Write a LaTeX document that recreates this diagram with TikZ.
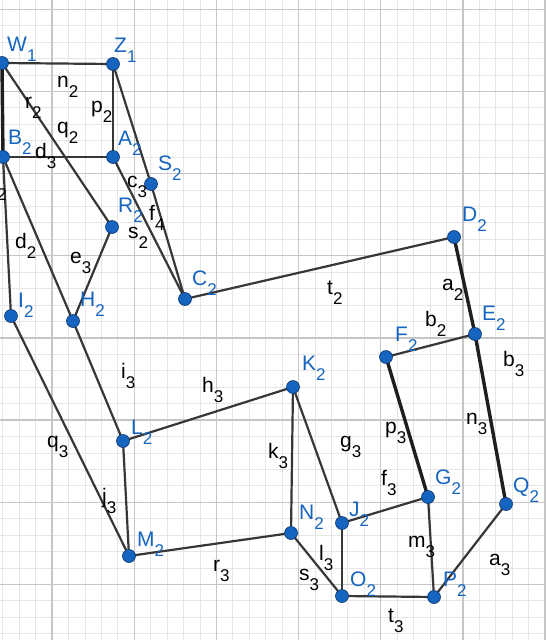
\documentclass[tikz,border=0pt]{standalone}
\usepackage{fontspec}
\setmainfont{Liberation Sans}
\pgfdeclarelayer{grid}
\pgfdeclarelayer{edges}
\pgfsetlayers{grid,edges,main}
\definecolor{ptblue}{RGB}{21,101,192}
\definecolor{ptedge}{RGB}{14,55,110}
\definecolor{segc}{RGB}{55,55,55}
\definecolor{minorg}{RGB}{230,230,230}
\definecolor{majorg}{RGB}{198,198,198}
\newcommand\lbl[2]{#1\raisebox{-10pt}{\fontsize{17}{17}\selectfont #2}}
\begin{document}
\begin{tikzpicture}[x=1pt,y=-1pt,
  pt/.style={circle,fill=ptblue,draw=ptedge,line width=0.6pt,minimum size=13pt,inner sep=0pt},
  segline/.style={draw=segc,line width=2.2pt},
  boldline/.style={draw=black!88,line width=3.4pt},
  plab/.style={anchor=base west,inner sep=0pt,text=ptblue,font=\fontsize{21}{21}\selectfont},
  elab/.style={anchor=base west,inner sep=0pt,text=black,font=\fontsize{21}{21}\selectfont}]
\useasboundingbox (0,0) rectangle (546,640);
\clip (0,0) rectangle (546,640);
% grid
\begin{pgfonlayer}{grid}
\fill[white] (0,0) rectangle (546,640);
\foreach \i in {-3,...,30} {\pgfmathsetmacro\xx{52.1+16.43*\i}\draw[minorg,line width=0.8pt] (\xx,0) -- (\xx,640);}
\foreach \i in {0,...,38} {\pgfmathsetmacro\yy{9.3+16.43*\i}\draw[minorg,line width=0.8pt] (0,\yy) -- (546,\yy);}
\foreach \i in {0,...,6} {\pgfmathsetmacro\xx{52.1+82.15*\i}\draw[majorg,line width=1.3pt] (\xx,0) -- (\xx,640);}
\foreach \i in {0,...,7} {\pgfmathsetmacro\yy{9.3+82.15*\i}\draw[majorg,line width=1.3pt] (0,\yy) -- (546,\yy);}
\end{pgfonlayer}
% points
\node[pt] (W1) at (2,63) {};
\node[pt] (Z1) at (113,64) {};
\node[pt] (B2) at (3,157) {};
\node[pt] (A2) at (113,157) {};
\node[pt] (S2) at (151,184) {};
\node[pt] (R2) at (112,227) {};
\node[pt] (C2) at (185,299) {};
\node[pt] (D2) at (454,237) {};
\node[pt] (E2) at (475,334) {};
\node[pt] (F2) at (386,357) {};
\node[pt] (I2) at (11,316) {};
\node[pt] (H2) at (73,321) {};
\node[pt] (K2) at (293,387) {};
\node[pt] (L2) at (123,441) {};
\node[pt] (G2) at (428,497) {};
\node[pt] (Q2) at (506,504) {};
\node[pt] (J2) at (342,523) {};
\node[pt] (N2) at (291,533) {};
\node[pt] (M2) at (129,556) {};
\node[pt] (O2) at (342,596) {};
\node[pt] (P2) at (434,597) {};
% edges
\begin{pgfonlayer}{edges}
\draw[boldline] (W1.center) -- (B2.center);
\draw[boldline] (D2.center) -- (E2.center);
\draw[boldline] (E2.center) -- (Q2.center);
\draw[boldline] (F2.center) -- (G2.center);
\draw[segline] (W1.center) -- (Z1.center);
\draw[segline] (Z1.center) -- (A2.center);
\draw[segline] (Z1.center) -- (S2.center);
\draw[segline] (S2.center) -- (C2.center);
\draw[segline] (W1.center) -- (R2.center);
\draw[segline] (B2.center) -- (A2.center);
\draw[segline] (A2.center) -- (C2.center);
\draw[segline] (R2.center) -- (H2.center);
\draw[segline] (B2.center) -- (H2.center);
\draw[segline] (H2.center) -- (L2.center);
\draw[segline] (B2.center) -- (I2.center);
\draw[segline] (I2.center) -- (M2.center);
\draw[segline] (L2.center) -- (M2.center);
\draw[segline] (L2.center) -- (K2.center);
\draw[segline] (K2.center) -- (N2.center);
\draw[segline] (K2.center) -- (J2.center);
\draw[segline] (M2.center) -- (N2.center);
\draw[segline] (N2.center) -- (O2.center);
\draw[segline] (J2.center) -- (O2.center);
\draw[segline] (J2.center) -- (G2.center);
\draw[segline] (O2.center) -- (P2.center);
\draw[segline] (G2.center) -- (P2.center);
\draw[segline] (P2.center) -- (Q2.center);
\draw[segline] (F2.center) -- (E2.center);
\draw[segline] (C2.center) -- (D2.center);
\end{pgfonlayer}
% point labels
\node[plab] (lW1) at (7,51) {\lbl{W}{1}};
\node[plab] (lZ1) at (114,52) {\lbl{Z}{1}};
\node[plab] (lB2) at (8,144) {\lbl{B}{2}};
\node[plab] (lA2) at (118,145) {\lbl{A}{2}};
\node[plab] (lS2) at (158,170) {\lbl{S}{2}};
\node[plab] (lR2) at (118,212) {\lbl{R}{2}};
\node[plab] (lC2) at (192,285) {\lbl{C}{2}};
\node[plab] (lD2) at (462,221) {\lbl{D}{2}};
\node[plab] (lE2) at (482,320) {\lbl{E}{2}};
\node[plab] (lF2) at (395,341) {\lbl{F}{2}};
\node[plab] (lI2) at (18,307) {\lbl{I}{2}};
\node[plab] (lH2) at (80,306) {\lbl{H}{2}};
\node[plab] (lK2) at (302,370) {\lbl{K}{2}};
\node[plab] (lL2) at (131,434) {\lbl{L}{2}};
\node[plab] (lG2) at (435,484) {\lbl{G}{2}};
\node[plab] (lQ2) at (513,492) {\lbl{Q}{2}};
\node[plab] (lJ2) at (349,516) {\lbl{J}{2}};
\node[plab] (lN2) at (299,519) {\lbl{N}{2}};
\node[plab] (lM2) at (137,546) {\lbl{M}{2}};
\node[plab] (lO2) at (350,586) {\lbl{O}{2}};
\node[plab] (lP2) at (443,586) {\lbl{P}{2}};
% edge labels
\node[elab] (n2) at (57,87) {\lbl{n}{2}};
\node[elab] (p2) at (91,112) {\lbl{p}{2}};
\node[elab] (q2) at (57,133) {\lbl{q}{2}};
\node[elab] (r2) at (25,108) {\lbl{r}{2}};
\node[elab] (d3) at (35,158) {\lbl{d}{3}};
\node[elab] (c3) at (127,187) {\lbl{c}{3}};
\node[elab] (f4) at (149,220) {\lbl{f}{4}};
\node[elab] (s2) at (128,238) {\lbl{s}{2}};
\node[elab] (d2) at (15,248) {\lbl{d}{2}};
\node[elab] (e3) at (70,263) {\lbl{e}{3}};
\node[elab] (t2) at (327,294) {\lbl{t}{2}};
\node[elab] (a2) at (442,290) {\lbl{a}{2}};
\node[elab] (b2) at (425,326) {\lbl{b}{2}};
\node[elab] (b3) at (503,366) {\lbl{b}{3}};
\node[elab] (i3) at (121,378) {\lbl{i}{3}};
\node[elab] (h3) at (202,392) {\lbl{h}{3}};
\node[elab] (k3) at (268,458) {\lbl{k}{3}};
\node[elab] (g3) at (340,447) {\lbl{g}{3}};
\node[elab] (p3) at (385,433) {\lbl{p}{3}};
\node[elab] (n3) at (466,424) {\lbl{n}{3}};
\node[elab] (f3) at (381,485) {\lbl{f}{3}};
\node[elab] (q3) at (47,447) {\lbl{q}{3}};
\node[elab] (j3) at (102,503) {\lbl{j}{3}};
\node[elab] (l3) at (319,560) {\lbl{l}{3}};
\node[elab] (m3) at (408,547) {\lbl{m}{3}};
\node[elab] (a3) at (489,565) {\lbl{a}{3}};
\node[elab] (s3) at (299,580) {\lbl{s}{3}};
\node[elab] (r3) at (213,571) {\lbl{r}{3}};
\node[elab] (t3) at (388,622) {\lbl{t}{3}};
\node[elab,font=\fontsize{17}{17}\selectfont] (cut2) at (-3,200) {2};
\end{tikzpicture}
\end{document}
